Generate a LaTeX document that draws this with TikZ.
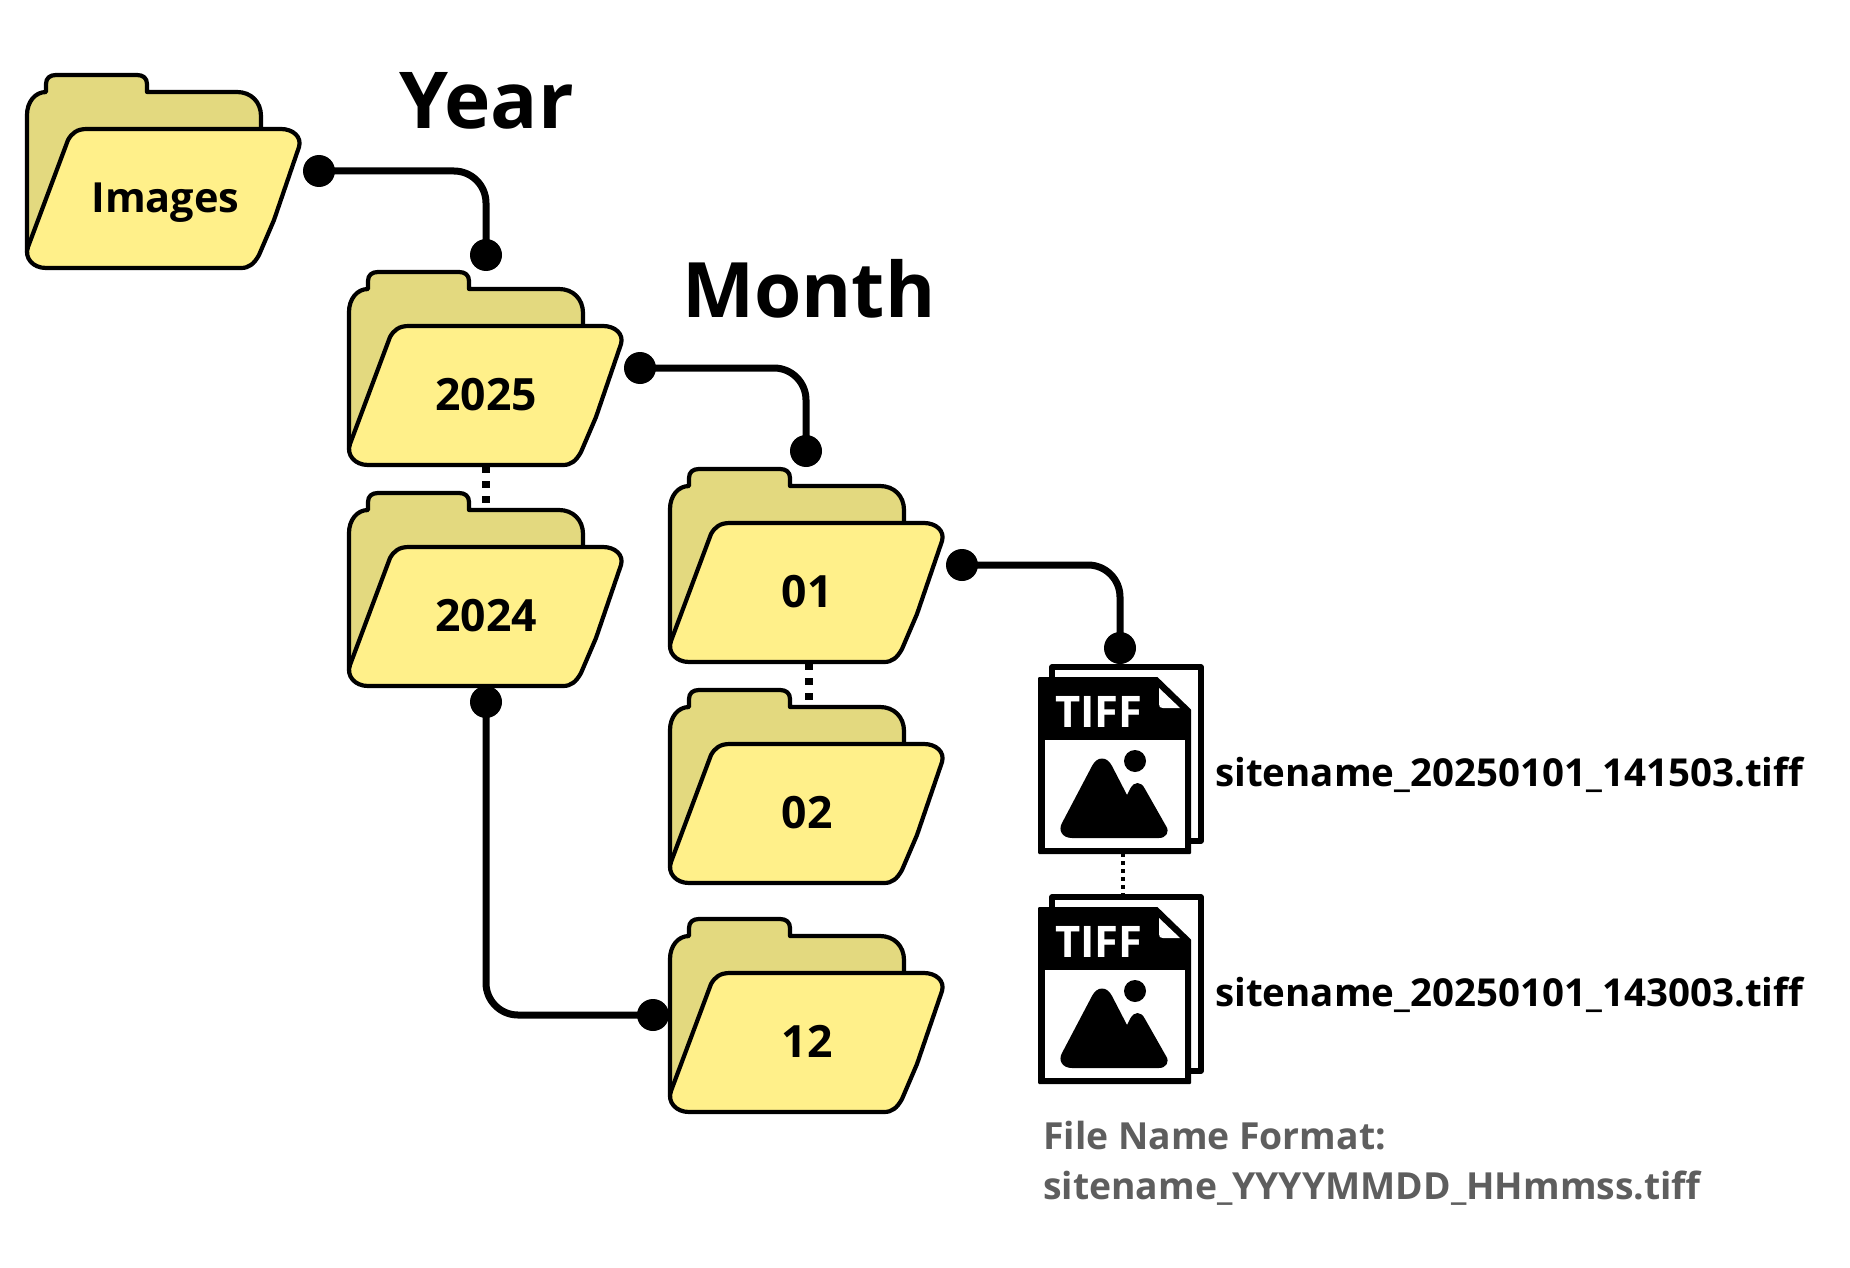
\documentclass[tikz,border=0pt]{standalone}
\usepackage{fontspec}
\setmainfont{Open Sans}
\definecolor{folderback}{HTML}{E3D97F}
\definecolor{folderfront}{HTML}{FFF08A}
\definecolor{notegray}{HTML}{5E5E5E}
\newcommand{\digitsize}{\fontsize{44.5}{44.5}\selectfont}
\tikzset{
  outline/.style={draw=black,line width=4.2pt,line join=round},
  dot/.style={circle,fill=black,inner sep=0pt,minimum size=32pt},
  conn/.style={draw=black,line width=7pt,rounded corners=32pt},
  dotconn/.style={draw=black,line width=7.5pt,dash pattern=on 7pt off 8pt},
  fileconn/.style={draw=black,line width=4pt,dash pattern=on 4pt off 4pt},
  folderlabel/.style={font=\bfseries\fontsize{41.5}{42}\selectfont,inner sep=0pt,anchor=base},
  headlabel/.style={font=\bfseries\fontsize{76.5}{78}\selectfont,inner sep=0pt,anchor=base west},
  filelabel/.style={font=\bfseries\fontsize{38.5}{38}\selectfont,inner sep=0pt,anchor=base west},
  notelabel/.style={font=\bfseries\fontsize{37.3}{37}\selectfont,text=notegray,inner sep=0pt,anchor=base west},
  tifflabel/.style={font=\fontsize{43.5}{43}\selectfont\bfseries,text=white,inner sep=0pt,anchor=base west},
}
\newcommand{\folderat}[4]{%
  \begin{scope}[shift={(#2,#3)}]
    \path[outline,fill=folderback] (0,178) -- (0,40)
      .. controls (0,27) and (8,17) .. (19,17) -- (19,9)
      .. controls (19,3) and (23,0) .. (29,0) -- (110,0)
      .. controls (116,0) and (120,3) .. (120,9) -- (120,17) -- (210,17)
      .. controls (224,17) and (234,27) .. (234,41) -- (234,70) -- (100,150) -- cycle;
    \path[outline,fill=folderfront] (41,65)
      .. controls (45,58) and (50,54) .. (60,54) -- (254,54)
      .. controls (266,54) and (275,62) .. (272,72) -- (247,145) -- (232,180)
      .. controls (227,189) and (222,193) .. (214,193) -- (19,193)
      .. controls (6,193) and (-3,183) .. (1,172) -- cycle;
    \node[folderlabel] (#1) at (137,138) {#4};
    \coordinate (#1-top) at (137,17);
    \coordinate (#1-bottom) at (137,193);
  \end{scope}}
\newcommand{\tiffat}[2]{%
  \begin{scope}[shift={(0,#2)}]
    \path[draw=black,line width=5.5pt,line join=round,fill=white] (1052,667) rectangle (1201,841);
    \path[fill=black,draw=black,line width=2pt,line join=round] (1039,678) -- (1157,678) -- (1190,710) -- (1190,853) -- (1039,853) -- cycle;
    \path[fill=white] (1045,740) rectangle (1185,848);
    \path[fill=white] (1159,688) -- (1180,708) -- (1163,708) .. controls (1160,708) and (1159,707) .. (1159,704) -- cycle;
    \node[tifflabel] (#1) at (1055,727) {TIFF};
    \path[fill=black] (1135,761) circle (11pt);
    \path[fill=black] (1072,838) .. controls (1062,838) and (1058,830) .. (1062,823) -- (1092,766)
      .. controls (1097,756) and (1107,756) .. (1112,766) -- (1127,795) -- (1130,789)
      .. controls (1134,781) and (1141,781) .. (1145,789) -- (1166,826)
      .. controls (1170,832) and (1166,838) .. (1159,838) -- cycle;
    \coordinate (#1-top) at (1123,667);
    \coordinate (#1-bottom) at (1123,853);
  \end{scope}}
\begin{document}
\begin{tikzpicture}[x=1pt,y=-1pt]
\useasboundingbox (0,0) rectangle (1850,1268);
\path[fill=white] (0,0) rectangle (1850,1268);
\coordinate (l2025) at (486,466);
\coordinate (t2024) at (486,508);
\coordinate (l01) at (809,663);
\coordinate (t02) at (809,705);
\path[dotconn] (l2025) -- (t2024);
\path[dotconn] (l01) -- (t02);
\folderat{images}{27}{75}{\hspace*{3pt}Images}
\folderat{y2025}{349}{272}{\digitsize 2025}
\folderat{y2024}{349}{493}{\digitsize 2024}
\folderat{m01}{670}{469}{\digitsize 01}
\folderat{m02}{670}{690}{\digitsize 02}
\folderat{m12}{670}{919}{\digitsize 12}
\tiffat{tiffa}{0}
\tiffat{tiffb}{230}
\node[filelabel] (namea) at (1215,786) {sitename\_20250101\_141503.tiff};
\node[filelabel] (nameb) at (1215,1006) {sitename\_20250101\_143003.tiff};
\node[headlabel,font=\bfseries\fontsize{78.5}{78}\selectfont] (year) at (399,129) {Year};
\node[headlabel] (month) at (682,317) {Month};
\node[notelabel] (fmta) at (1043,1149) {File Name Format:};
\node[notelabel] (fmtb) at (1043,1199) {sitename\_YYYYMMDD\_HHmmss.tiff};
\node[dot] (d1a) at (319,171) {};
\node[dot] (d1b) at (486,255) {};
\node[dot] (d2a) at (640,368) {};
\node[dot] (d2b) at (806,451) {};
\node[dot] (d3a) at (962,565) {};
\node[dot] (d3b) at (1120,648) {};
\node[dot] (d4a) at (486,702) {};
\node[dot] (d4b) at (653,1015) {};
\path[conn] (d1a.center) -- (d1a.center-|d1b.center) -- (d1b.center);
\path[conn] (d2a.center) -- (d2a.center-|d2b.center) -- (d2b.center);
\path[conn] (d3a.center) -- (d3a.center-|d3b.center) -- (d3b.center);
\path[conn] (d4a.center) -- (d4a.center|-d4b.center) -- (d4b.center);
\path[fileconn] (tiffa-bottom) -- (tiffb-top);
\end{tikzpicture}
\end{document}
